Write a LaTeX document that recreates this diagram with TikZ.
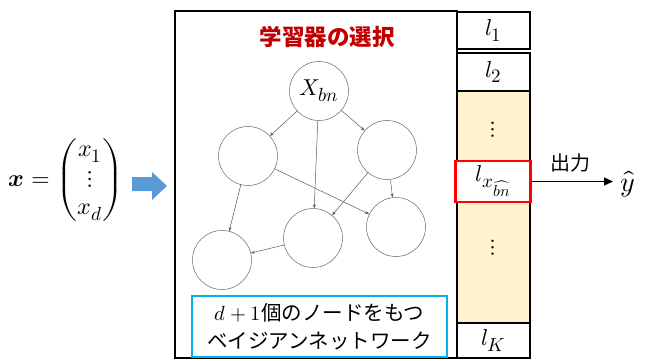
\documentclass[tikz,border=0pt]{standalone}
\usepackage{amsmath}
\usepackage{fontspec}
\usepackage{unicode-math}
\setmathfont{Latin Modern Math}
\DeclareMathSizes{23}{23}{19}{16}
\DeclareMathSizes{24}{24}{19}{16}
\DeclareMathSizes{20.5}{20.5}{16}{13}
\newfontfamily\jp{Noto Sans CJK JP}
\usetikzlibrary{arrows.meta}
\definecolor{arrblue}{HTML}{5B9BD5}
\definecolor{boxblue}{HTML}{00B0F0}
\definecolor{titlered}{HTML}{C00000}
\definecolor{paleyellow}{HTML}{FFF2CC}
\tikzset{
  bnnode/.style={circle,draw=black!60,line width=0.5pt,minimum size=59pt,inner sep=0pt},
  bnedge/.style={-{Stealth[length=4pt,width=3pt]},draw=black!65,line width=0.5pt},
  colbox/.style={draw=black,line width=1.4pt,inner sep=0pt},
  mathtxt/.style={font=\fontsize{23}{27}\selectfont,inner sep=0pt},
  jptxt/.style={font=\jp\fontsize{20.5}{28}\selectfont,inner sep=0pt}
}
\begin{document}
\begin{tikzpicture}[x=1pt,y=-1pt]
\useasboundingbox (0,0) rectangle (646,361);
% main frame
\draw[line width=1.6pt] (175,11) rectangle (457,358);
% right column
\fill[paleyellow] (457,91) rectangle (530,323);
\draw[line width=1.4pt] (457,91) -- (457,323) (530,91) -- (530,323);
\node[colbox,minimum width=73pt,minimum height=37pt] (c1) at (493.5,30.5) {};
\node[colbox,minimum width=73pt,minimum height=38pt] (c2) at (493.5,72) {};
\node[colbox,minimum width=73pt,minimum height=35pt] (cK) at (493.5,340.5) {};
\node[draw=red,line width=2.2pt,fill=white,minimum width=75pt,minimum height=41pt,inner sep=0pt] (cbn) at (493,181.5) {};
\node[mathtxt] (t1) at (c1) {$l_1$};
\node[mathtxt] (t2) at (c2) {$l_2$};
\node[mathtxt] (d1) at (493,130) {$\vdots$};
\node[mathtxt] (tbn) at (cbn) {$l_{x_{\widehat{bn}}}$};
\node[mathtxt] (d2) at (493,248) {$\vdots$};
\node[mathtxt] (tK) at (cK) {$l_K$};
% title
\node[inner sep=0pt,text=titlered,font=\jp\bfseries\fontsize{22.5}{26}\selectfont] (title) at (327,37) {学習器の選択};
% bayesian network
\node[bnnode] (xb) at (319,91) {};
\node[mathtxt] at (xb) {$X_{bn}$};
\node[bnnode] (lu) at (248,156) {};
\node[bnnode] (ru) at (387,150) {};
\node[bnnode] (ml) at (313,238) {};
\node[bnnode] (rl) at (396,227) {};
\node[bnnode] (ll) at (222,260) {};
\draw[bnedge] (xb) -- (lu);
\draw[bnedge] (xb) -- (ml);
\draw[bnedge] (xb) -- (ru);
\draw[bnedge] (lu) -- (ll);
\draw[bnedge] (lu) -- (rl);
\draw[bnedge] (ru) -- (ml);
\draw[bnedge] (ru) -- (rl);
\draw[bnedge] (ml) -- (ll);
% caption box
\node[draw=boxblue,line width=1.6pt,minimum width=255pt,minimum height=61pt,inner sep=0pt] (cap) at (319.5,326.5) {};
\node[jptxt,align=center] (captxt) at (cap) {$d+1$個のノードをもつ\\ベイジアンネットワーク};
% input
\node[inner sep=0pt,font=\fontsize{24}{29}\selectfont] (inp) at (66,180) {$\symbfit{x}=\begin{pmatrix}x_1\\ \vdots\\ x_d\end{pmatrix}$};
\fill[arrblue] (132,177) -- (152,177) -- (152,172) -- (167,186) -- (152,200) -- (152,191) -- (132,191) -- cycle;
% output
\node[font=\fontsize{28}{32}\selectfont,inner sep=0pt] (yhat) at (628,184) {$\hat{y}$};
\draw[line width=1.4pt,-{Triangle[length=9pt,width=8pt]}] (cbn.east) -- (613,181.5);
\node[inner sep=0pt,font=\jp\fontsize{20}{24}\selectfont] (out) at (570,163) {出力};
\end{tikzpicture}
\end{document}
